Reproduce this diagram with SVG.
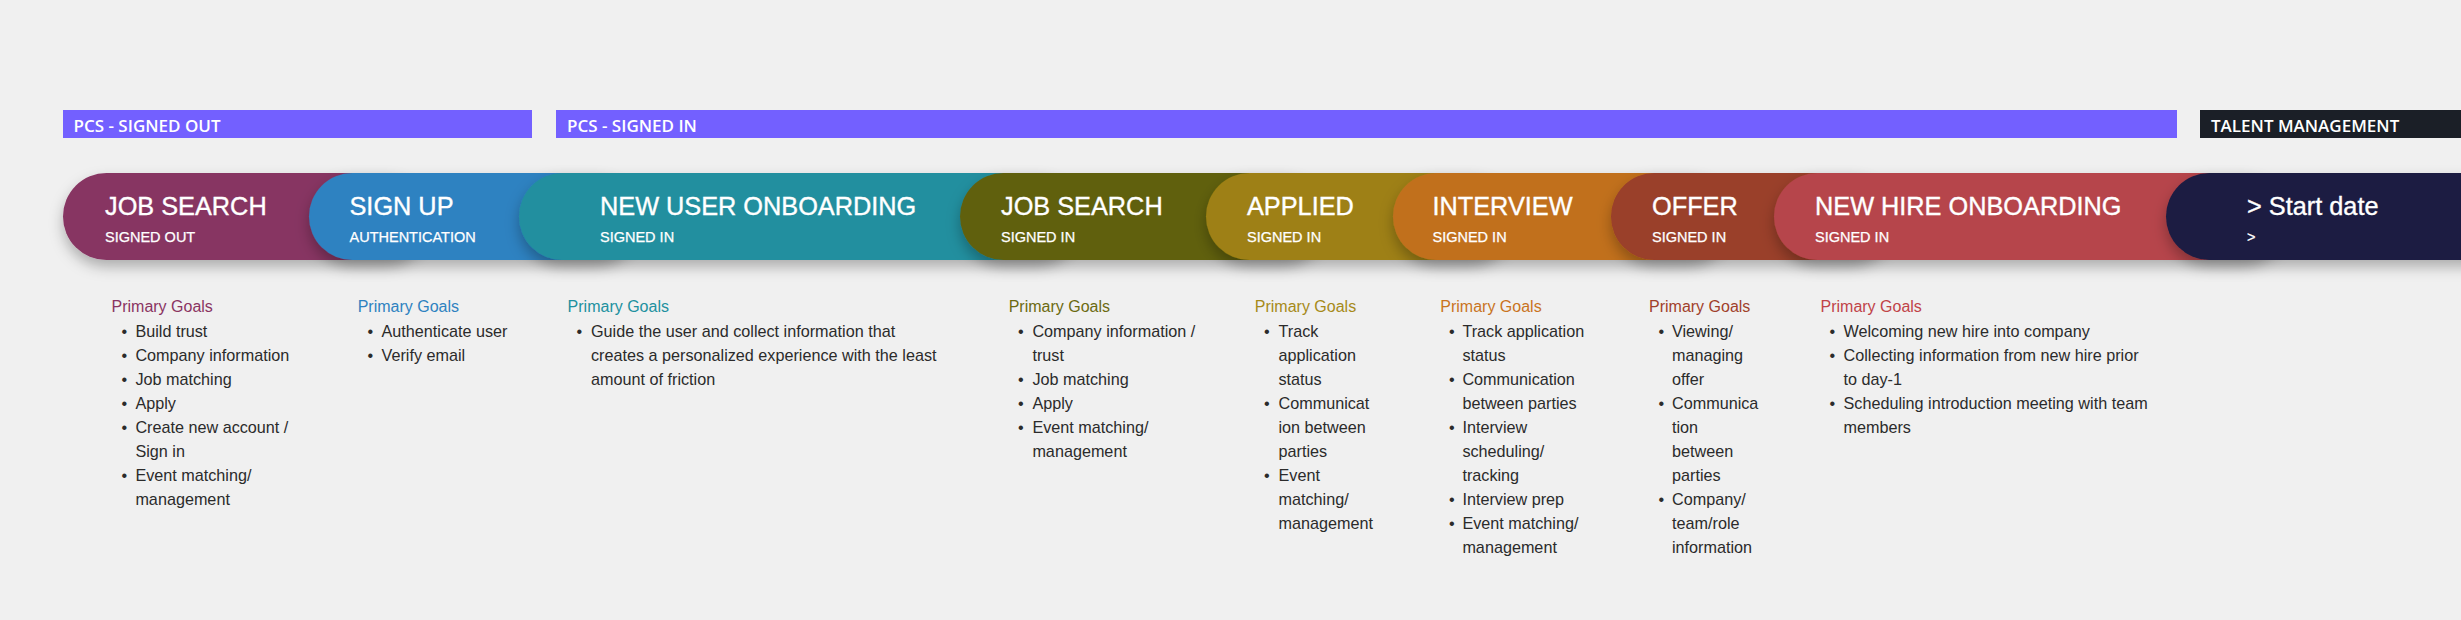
<svg xmlns="http://www.w3.org/2000/svg" width="2461" height="620" viewBox="0 0 2461 620">
<defs>
<filter id="sh" x="-20%" y="-40%" width="140%" height="190%">
<feDropShadow dx="0" dy="7" stdDeviation="7" flood-color="#000" flood-opacity="0.28"/>
</filter>
<style>
.bar{fill:#7360FF}
.bt{font-family:"Open Sans","Liberation Sans",sans-serif;font-weight:600;font-size:17px;fill:#fff}
.pill{filter:url(#sh)}
.tt{font-family:"Liberation Sans",Arial,sans-serif;font-size:25.3px;fill:#fff;stroke:#fff;stroke-width:0.35}
.st{font-family:"Liberation Sans",Arial,sans-serif;font-size:14.5px;fill:#fff;stroke:#fff;stroke-width:0.25}
.pg{font-family:"Liberation Sans",Arial,sans-serif;font-size:16px}
.b{font-family:"Liberation Sans",Arial,sans-serif;font-size:16.2px;fill:#2b2b2b}
</style>
</defs>
<rect width="2461" height="620" fill="#F0F0F0"/>
<g id="phases">
<g id="phase-signed-out"><rect class="bar" x="63" y="110" width="469" height="28"/><text class="bt" x="73.5" y="131.5">PCS - SIGNED OUT</text></g>
<g id="phase-signed-in"><rect class="bar" x="556" y="110" width="1621" height="28"/><text class="bt" x="567" y="131.5">PCS - SIGNED IN</text></g>
<g id="phase-talent"><rect x="2200" y="110" width="261" height="28" fill="#1B1F27"/><text class="bt" x="2211" y="131.5">TALENT MANAGEMENT</text></g>
</g>
<g id="connectors"/>
<g id="stage-job-search-out">
<rect class="pill" x="63" y="173" width="366" height="87" rx="43.5" fill="#873462"/>
<text class="tt" x="105" y="215">JOB SEARCH</text>
<text class="st" x="105" y="241.5">SIGNED OUT</text>
<text class="pg" x="111.5" y="312.3" fill="#8A3462">Primary Goals</text>
<text class="b"><tspan x="121.5" y="336.5">•</tspan><tspan x="135.4" y="336.5">Build trust</tspan><tspan x="121.5" y="360.5">•</tspan><tspan x="135.4" y="360.5">Company information</tspan><tspan x="121.5" y="384.5">•</tspan><tspan x="135.4" y="384.5">Job matching</tspan><tspan x="121.5" y="408.5">•</tspan><tspan x="135.4" y="408.5">Apply</tspan><tspan x="121.5" y="432.5">•</tspan><tspan x="135.4" y="432.5">Create new account /</tspan><tspan x="135.4" y="456.5">Sign in</tspan><tspan x="121.5" y="480.5">•</tspan><tspan x="135.4" y="480.5">Event matching/</tspan><tspan x="135.4" y="504.5">management</tspan></text>
</g>
<g id="stage-sign-up">
<rect class="pill" x="309" y="173" width="330" height="87" rx="43.5" fill="#2F82C1"/>
<text class="tt" x="349.5" y="215">SIGN UP</text>
<text class="st" x="349.5" y="241.5">AUTHENTICATION</text>
<text class="pg" x="357.7" y="312.3" fill="#2E82C0">Primary Goals</text>
<text class="b"><tspan x="367.5" y="336.5">•</tspan><tspan x="381.5" y="336.5">Authenticate user</tspan><tspan x="367.5" y="360.5">•</tspan><tspan x="381.5" y="360.5">Verify email</tspan></text>
</g>
<g id="stage-new-user-onboarding">
<rect class="pill" x="519" y="173" width="561" height="87" rx="43.5" fill="#228F9F"/>
<text class="tt" x="600" y="215">NEW USER ONBOARDING</text>
<text class="st" x="600" y="241.5">SIGNED IN</text>
<text class="pg" x="567.6" y="312.3" fill="#21909F">Primary Goals</text>
<text class="b"><tspan x="576.5" y="336.5">•</tspan><tspan x="591" y="336.5">Guide the user and collect information that</tspan><tspan x="591" y="360.5">creates a personalized experience with the least</tspan><tspan x="591" y="384.5">amount of friction</tspan></text>
</g>
<g id="stage-job-search-in">
<rect class="pill" x="960" y="173" width="366" height="87" rx="43.5" fill="#606110"/>
<text class="tt" x="1001" y="215">JOB SEARCH</text>
<text class="st" x="1001" y="241.5">SIGNED IN</text>
<text class="pg" x="1008.7" y="312.3" fill="#6B6A10">Primary Goals</text>
<text class="b"><tspan x="1018" y="336.5">•</tspan><tspan x="1032.4" y="336.5">Company information /</tspan><tspan x="1032.4" y="360.5">trust</tspan><tspan x="1018" y="384.5">•</tspan><tspan x="1032.4" y="384.5">Job matching</tspan><tspan x="1018" y="408.5">•</tspan><tspan x="1032.4" y="408.5">Apply</tspan><tspan x="1018" y="432.5">•</tspan><tspan x="1032.4" y="432.5">Event matching/</tspan><tspan x="1032.4" y="456.5">management</tspan></text>
</g>
<g id="stage-applied">
<rect class="pill" x="1206" y="173" width="307" height="87" rx="43.5" fill="#9E8013"/>
<text class="tt" x="1247" y="215">APPLIED</text>
<text class="st" x="1247" y="241.5">SIGNED IN</text>
<text class="pg" x="1254.8" y="312.3" fill="#A68A18">Primary Goals</text>
<text class="b"><tspan x="1264" y="336.5">•</tspan><tspan x="1278.5" y="336.5">Track</tspan><tspan x="1278.5" y="360.5">application</tspan><tspan x="1278.5" y="384.5">status</tspan><tspan x="1264" y="408.5">•</tspan><tspan x="1278.5" y="408.5">Communicat</tspan><tspan x="1278.5" y="432.5">ion between</tspan><tspan x="1278.5" y="456.5">parties</tspan><tspan x="1264" y="480.5">•</tspan><tspan x="1278.5" y="480.5">Event</tspan><tspan x="1278.5" y="504.5">matching/</tspan><tspan x="1278.5" y="528.5">management</tspan></text>
</g>
<g id="stage-interview">
<rect class="pill" x="1393" y="173" width="338" height="87" rx="43.5" fill="#C1701F"/>
<text class="tt" x="1432.5" y="215">INTERVIEW</text>
<text class="st" x="1432.5" y="241.5">SIGNED IN</text>
<text class="pg" x="1440.3" y="312.3" fill="#C9741E">Primary Goals</text>
<text class="b"><tspan x="1449" y="336.5">•</tspan><tspan x="1462.4" y="336.5">Track application</tspan><tspan x="1462.4" y="360.5">status</tspan><tspan x="1449" y="384.5">•</tspan><tspan x="1462.4" y="384.5">Communication</tspan><tspan x="1462.4" y="408.5">between parties</tspan><tspan x="1449" y="432.5">•</tspan><tspan x="1462.4" y="432.5">Interview</tspan><tspan x="1462.4" y="456.5">scheduling/</tspan><tspan x="1462.4" y="480.5">tracking</tspan><tspan x="1449" y="504.5">•</tspan><tspan x="1462.4" y="504.5">Interview prep</tspan><tspan x="1449" y="528.5">•</tspan><tspan x="1462.4" y="528.5">Event matching/</tspan><tspan x="1462.4" y="552.5">management</tspan></text>
</g>
<g id="stage-offer">
<rect class="pill" x="1611" y="173" width="283" height="87" rx="43.5" fill="#9A3F2B"/>
<text class="tt" x="1652" y="215">OFFER</text>
<text class="st" x="1652" y="241.5">SIGNED IN</text>
<text class="pg" x="1649" y="312.3" fill="#A0402B">Primary Goals</text>
<text class="b"><tspan x="1658.5" y="336.5">•</tspan><tspan x="1672" y="336.5">Viewing/</tspan><tspan x="1672" y="360.5">managing</tspan><tspan x="1672" y="384.5">offer</tspan><tspan x="1658.5" y="408.5">•</tspan><tspan x="1672" y="408.5">Communica</tspan><tspan x="1672" y="432.5">tion</tspan><tspan x="1672" y="456.5">between</tspan><tspan x="1672" y="480.5">parties</tspan><tspan x="1658.5" y="504.5">•</tspan><tspan x="1672" y="504.5">Company/</tspan><tspan x="1672" y="528.5">team/role</tspan><tspan x="1672" y="552.5">information</tspan></text>
</g>
<g id="stage-new-hire-onboarding">
<rect class="pill" x="1774" y="173" width="512" height="87" rx="43.5" fill="#B6454B"/>
<text class="tt" x="1815" y="215">NEW HIRE ONBOARDING</text>
<text class="st" x="1815" y="241.5">SIGNED IN</text>
<text class="pg" x="1820.5" y="312.3" fill="#C04348">Primary Goals</text>
<text class="b"><tspan x="1829.5" y="336.5">•</tspan><tspan x="1843.5" y="336.5">Welcoming new hire into company</tspan><tspan x="1829.5" y="360.5">•</tspan><tspan x="1843.5" y="360.5">Collecting information from new hire prior</tspan><tspan x="1843.5" y="384.5">to day-1</tspan><tspan x="1829.5" y="408.5">•</tspan><tspan x="1843.5" y="408.5">Scheduling introduction meeting with team</tspan><tspan x="1843.5" y="432.5">members</tspan></text>
</g>
<g id="stage-start-date">
<rect class="pill" x="2166" y="173" width="360" height="87" rx="43.5" fill="#1B1C42"/>
<text class="tt" x="2247" y="215" font-size="29">&gt; Start date</text>
<text class="st" x="2247" y="241.5">&gt;</text>
</g>
</svg>
